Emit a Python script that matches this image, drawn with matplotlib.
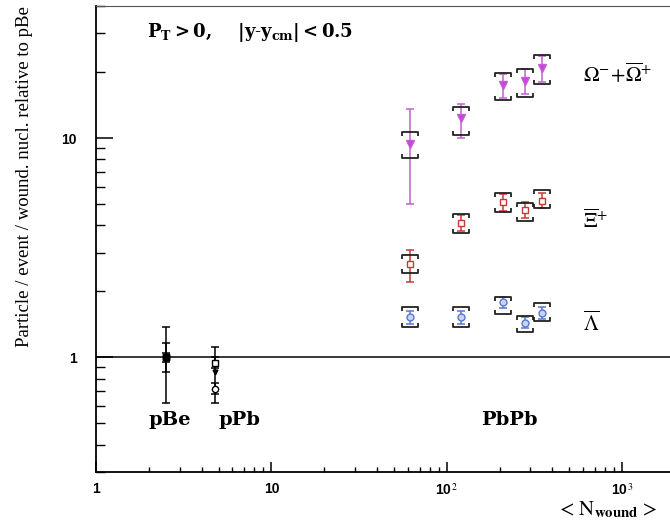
import matplotlib
matplotlib.use('Agg')
import matplotlib.pyplot as plt
from matplotlib.path import Path
from matplotlib.ticker import FixedLocator, FixedFormatter, LogLocator, NullFormatter

plt.rcParams['mathtext.fontset'] = 'stix'

# PbPb centrality classes
n_wound = [62, 120, 210, 280, 350]

# Omega- + anti-Omega+
omega = [9.4, 12.3, 17.4, 18.2, 20.8]
omega_stat_lo = [5.0, 10.0, 15.2, 15.8, 18.0]
omega_stat_hi = [13.5, 14.3, 19.6, 20.6, 23.6]
omega_sys_lo = [8.1, 10.3, 14.9, 15.4, 17.6]
omega_sys_hi = [10.65, 13.9, 19.7, 20.6, 23.8]

# anti-Xi+
xi = [2.67, 4.11, 5.1, 4.7, 5.17]
xi_stat_lo = [2.21, 3.75, 4.65, 4.3, 4.8]
xi_stat_hi = [3.1, 4.45, 5.55, 5.1, 5.6]
xi_sys_lo = [2.43, 3.7, 4.6, 4.2, 4.8]
xi_sys_hi = [2.94, 4.5, 5.6, 5.07, 5.8]

# anti-Lambda
lam = [1.52, 1.52, 1.78, 1.44, 1.6]
lam_stat_lo = [1.42, 1.42, 1.68, 1.36, 1.5]
lam_stat_hi = [1.62, 1.62, 1.88, 1.53, 1.7]
lam_sys_lo = [1.37, 1.37, 1.58, 1.30, 1.46]
lam_sys_hi = [1.69, 1.69, 1.89, 1.55, 1.76]

# pBe reference (all species = 1)
pbe_x = 2.5
pbe_y = [1.0, 1.0, 1.0]
pbe_lo = [0.95, 0.855, 0.62]
pbe_hi = [1.05, 1.16, 1.38]

# pPb
ppb_x = 4.75
ppb_y = [0.94, 0.86, 0.72]          # Xi, Omega, Lambda
ppb_lo = [0.89, 0.62, 0.68]
ppb_hi = [1.0, 1.12, 0.76]
ppb_markers = ['s', 'v', 'o']
ppb_fill = ['white', 'k', 'white']
ppb_size = [5, 3.5, 4.5]

group_labels = ['pBe', 'pPb', 'PbPb']
group_x = [2.64, 6.6, 228]

# bracket markers for systematic errors
top_bracket = Path([(-1, -0.55), (-1, 0), (1, 0), (1, -0.55)],
                   [Path.MOVETO, Path.LINETO, Path.LINETO, Path.LINETO])
bot_bracket = Path([(-1, 0.55), (-1, 0), (1, 0), (1, 0.55)],
                   [Path.MOVETO, Path.LINETO, Path.LINETO, Path.LINETO])

fig = plt.figure(figsize=(6.7, 5.29), dpi=100)
ax = fig.add_axes([96 / 670, 57 / 529, 579 / 670, 466 / 529])
ax.set_xscale('log')
ax.set_yscale('log')
ax.set_xlim(1, 2000)
ax.set_ylim(0.3, 40)

ax.axhline(1, color='k', lw=1.1)


def stat_bars(x, y, lo, hi, color, marker, mfc, ms):
    yerr = [[v - l for v, l in zip(y, lo)], [h - v for v, h in zip(y, hi)]]
    ax.errorbar(x, y, yerr=yerr, fmt=marker, color=color, mfc=mfc, mec=color,
                ms=ms, ecolor=color, elinewidth=1.1, capsize=3, capthick=1.1,
                zorder=3)


def sys_brackets(x, lo, hi):
    ax.plot(x, hi, ls='none', marker=top_bracket, ms=11, mec='#222222',
            mew=1.3, mfc='none', zorder=4)
    ax.plot(x, lo, ls='none', marker=bot_bracket, ms=11, mec='#222222',
            mew=1.3, mfc='none', zorder=4)


stat_bars(n_wound, omega, omega_stat_lo, omega_stat_hi, '#c060d0', 'v', '#d040e0', 6)
sys_brackets(n_wound, omega_sys_lo, omega_sys_hi)
stat_bars(n_wound, xi, xi_stat_lo, xi_stat_hi, '#c83838', 's', 'white', 5)
sys_brackets(n_wound, xi_sys_lo, xi_sys_hi)
stat_bars(n_wound, lam, lam_stat_lo, lam_stat_hi, '#5878d0', 'o', '#c8d4f4', 5)
sys_brackets(n_wound, lam_sys_lo, lam_sys_hi)

for y, lo, hi in zip(pbe_y, pbe_lo, pbe_hi):
    stat_bars([pbe_x], [y], [lo], [hi], 'k', 's', 'k', 5)
for y, lo, hi, m, f, s in zip(ppb_y, ppb_lo, ppb_hi, ppb_markers, ppb_fill, ppb_size):
    stat_bars([ppb_x], [y], [lo], [hi], 'k', m, f, s)

for lab, gx in zip(group_labels, group_x):
    ax.text(gx, 0.52, lab, ha='center', va='center', fontsize=14,
            fontweight='bold', family='DejaVu Serif')

# ticks
ax.xaxis.set_major_locator(FixedLocator([1, 10, 100, 1000]))
ax.xaxis.set_major_formatter(FixedFormatter(['1', '10', r'10$^{\,2}$', r'10$^{\,3}$']))
ax.xaxis.set_minor_locator(LogLocator(base=10, subs=range(2, 10)))
ax.xaxis.set_minor_formatter(NullFormatter())
ax.yaxis.set_major_locator(FixedLocator([1, 10]))
ax.yaxis.set_major_formatter(FixedFormatter(['1', '10']))
ax.yaxis.set_minor_locator(LogLocator(base=10, subs=range(2, 10)))
ax.yaxis.set_minor_formatter(NullFormatter())

ax.tick_params(axis='x', which='major', direction='in', length=7, width=1.1, pad=7)
ax.tick_params(axis='x', which='minor', direction='in', length=3.6, width=1.0)
ax.tick_params(axis='y', which='major', direction='in', length=12, width=1.1, pad=14)
ax.tick_params(axis='y', which='minor', direction='in', length=6.5, width=1.0)
for lab in ax.get_xticklabels() + ax.get_yticklabels():
    lab.set_fontfamily('Liberation Sans')
    lab.set_fontweight('bold')
    lab.set_fontsize(10)

for s in ['left', 'bottom']:
    ax.spines[s].set_linewidth(1.3)
ax.spines['top'].set_color('#555555')
ax.spines['right'].set_visible(False)

# texts
fig.text(147 / 670, 1 - 32 / 529,
         r'$\mathbf{P_T > 0,}\ \ \ \ \mathbf{|y\text{-}y_{cm}| < 0.5}$',
         fontsize=13, ha='left', va='center', math_fontfamily='dejavuserif')
fig.text(583 / 670, 1 - 73 / 529, r'$\Omega^{-}\!+\!\overline{\Omega}^{+}$',
         fontsize=15, ha='left', va='center')
fig.text(583 / 670, 1 - 220 / 529, r'$\overline{\Xi}^{+}$',
         fontsize=15, ha='left', va='center')
fig.text(583 / 670, 1 - 323 / 529, r'$\overline{\Lambda}$',
         fontsize=15, ha='left', va='center')

fig.text(25 / 670, 1 - 177 / 529, 'Particle / event / wound. nucl. relative to pBe',
         rotation=90, ha='center', va='center', fontsize=13.5, family='Liberation Serif')
fig.text(607 / 670, 1 - 510 / 529, r'$<\,\mathrm{N}_{\mathbf{wound}}\,>$',
         ha='center', va='center', fontsize=15)

fig.savefig('out.png', dpi=100)
